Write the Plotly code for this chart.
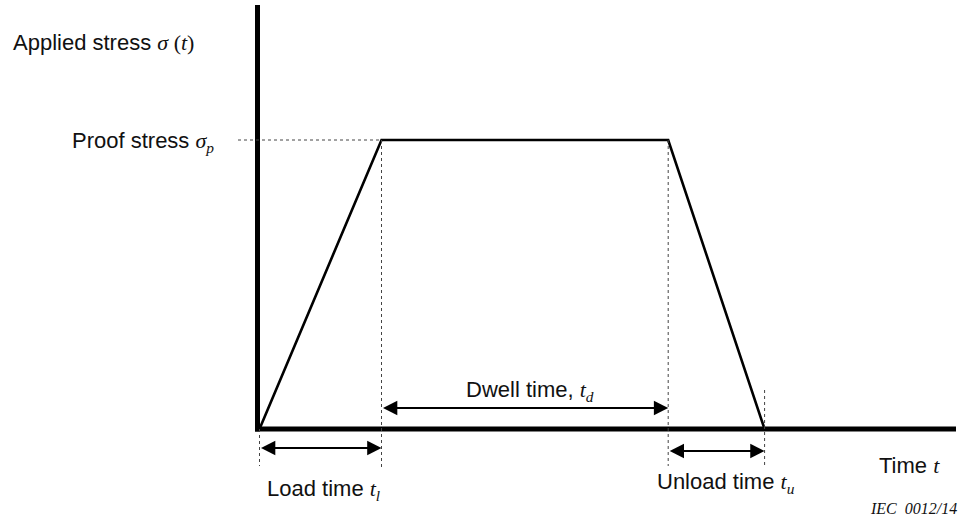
import plotly.graph_objects as go

# ---- data (arbitrary units) ----
load_time = 1.0        # t_l
dwell_time = 2.35      # t_d
unload_time = 0.79     # t_u
proof_stress = 1.0     # sigma_p
phase_labels = ["start", "end of load", "end of dwell", "end of unload"]

t_points = [0.0,
            load_time,
            load_time + dwell_time,
            load_time + dwell_time + unload_time]
stress_points = [0.0, proof_stress, proof_stress, 0.0]

# ---- geometry helpers (layout only) ----
W, H = 963, 521
X0_PX, PX_PER_T = 259.5, 122.0
Y0_PX, PX_PER_S = 429.0, 289.0
x_range = [-X0_PX / PX_PER_T, (W - X0_PX) / PX_PER_T]
y_range = [-(H - Y0_PX) / PX_PER_S, Y0_PX / PX_PER_S]

def dx(px):
    return (px - X0_PX) / PX_PER_T

def dy(py):
    return (Y0_PX - py) / PX_PER_S

SERIF = "Liberation Serif"
SANS = "Liberation Sans"

def sym(s):
    return f"<span style='font-family:{SERIF}'>{s}</span>"

fig = go.Figure()

# stress curve
fig.add_trace(go.Scatter(
    x=t_points, y=stress_points, mode="lines",
    line=dict(color="black", width=2.6),
    hoverinfo="skip", showlegend=False, cliponaxis=False,
))

shapes = []
# axes (thick)
shapes.append(dict(type="line", xref="x", yref="y",
                   x0=dx(257.5), x1=dx(257.5), y0=dy(431.5), y1=dy(5),
                   line=dict(color="black", width=5)))
shapes.append(dict(type="line", xref="x", yref="y",
                   x0=dx(255), x1=dx(956), y0=0, y1=0,
                   line=dict(color="black", width=5)))

dot = dict(color="#444444", width=1, dash="dot")
# horizontal dotted line at proof stress
shapes.append(dict(type="line", xref="x", yref="y",
                   x0=dx(238), x1=t_points[1], y0=proof_stress, y1=proof_stress,
                   line=dot))
# vertical dotted lines
shapes.append(dict(type="line", xref="x", yref="y",
                   x0=t_points[0], x1=t_points[0], y0=0, y1=dy(466), line=dot))
shapes.append(dict(type="line", xref="x", yref="y",
                   x0=t_points[1], x1=t_points[1], y0=proof_stress, y1=dy(468), line=dot))
shapes.append(dict(type="line", xref="x", yref="y",
                   x0=t_points[2], x1=t_points[2], y0=proof_stress, y1=dy(466), line=dot))
shapes.append(dict(type="line", xref="x", yref="y",
                   x0=t_points[3], x1=t_points[3], y0=dy(390), y1=dy(466), line=dot))

annotations = []

def dbl_arrow(xa, xb, y):
    annotations.append(dict(
        x=xb, y=y, ax=xa, ay=y, xref="x", yref="y", axref="x", ayref="y",
        text="", showarrow=True, arrowside="end+start",
        arrowhead=2, startarrowhead=2, arrowsize=1.3, startarrowsize=1.3,
        arrowwidth=2.2, arrowcolor="black", standoff=0, startstandoff=0,
    ))

dbl_arrow(t_points[1], t_points[2], dy(408))   # dwell
dbl_arrow(t_points[0], t_points[1], dy(448))   # load
dbl_arrow(t_points[2], t_points[3], dy(451))   # unload

FS = 22

def label(text, px, py, xanchor="left", size=FS, family=SANS):
    annotations.append(dict(
        text=text, x=px / W, y=1 - py / H, xref="paper", yref="paper",
        xanchor=xanchor, yanchor="middle", showarrow=False,
        font=dict(family=family, size=size, color="#111111"),
    ))

label("Applied stress " + sym("<i>σ</i> (<i>t</i>)"), 11, 43)
label("Proof stress " + sym("<i>σ</i><sub><i>p</i></sub>"), 70, 142)
label("Dwell time, " + sym("<i>t</i><sub><i>d</i></sub>"), 464, 391)
label("Load time " + sym("<i>t</i><sub><i>l</i></sub>"), 265, 490)
label("Unload time " + sym("<i>t</i><sub><i>u</i></sub>"), 655, 483)
label("Time " + sym("<i>t</i>"), 877, 465)
label("<i>IEC  0012/14</i>", 868, 508, size=16, family=SERIF)

fig.update_layout(
    width=W, height=H,
    margin=dict(l=0, r=0, t=0, b=0),
    paper_bgcolor="white", plot_bgcolor="white",
    xaxis=dict(range=x_range, visible=False, fixedrange=True),
    yaxis=dict(range=y_range, visible=False, fixedrange=True),
    shapes=shapes, annotations=annotations,
    showlegend=False,
)

fig.write_html(
    "out.html",
    config={"displayModeBar": False},
    post_script="document.body.style.margin='0';document.body.style.padding='0';",
)
